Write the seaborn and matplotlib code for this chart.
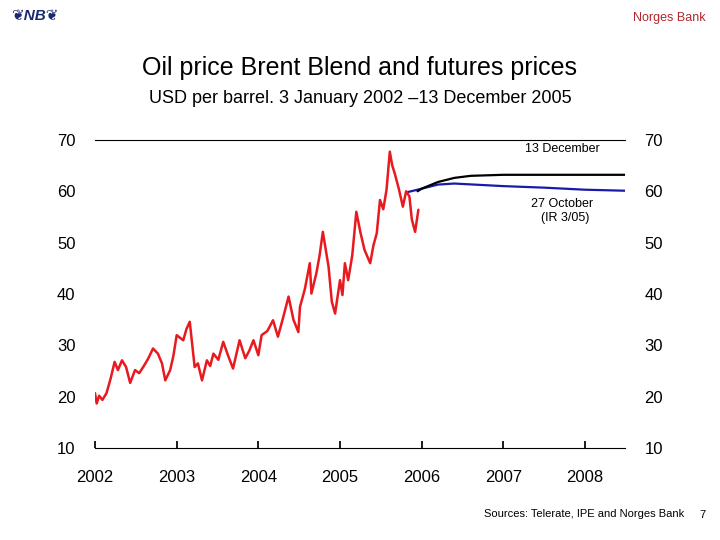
import matplotlib
matplotlib.use("Agg")
import matplotlib.pyplot as plt
import seaborn as sns

sns.set_theme(style="white")
plt.rcParams['font.family'] = ['Liberation Sans', 'DejaVu Sans']
plt.rcParams['text.color'] = 'black'
plt.rcParams['xtick.color'] = 'black'
plt.rcParams['ytick.color'] = 'black'

brent_t = [2002.0, 2002.02, 2002.05, 2002.09, 2002.14, 2002.19, 2002.24, 2002.28, 2002.33, 2002.38,
           2002.43, 2002.49, 2002.54, 2002.59, 2002.65, 2002.71, 2002.77, 2002.82,
           2002.86, 2002.92, 2002.96, 2003.00, 2003.08, 2003.12, 2003.16, 2003.22, 2003.26, 2003.31,
           2003.37, 2003.41, 2003.45, 2003.51, 2003.57, 2003.63,
           2003.69, 2003.77, 2003.84, 2003.89, 2003.94, 2004.00, 2004.04, 2004.11, 2004.18, 2004.24,
           2004.30, 2004.37, 2004.43, 2004.49, 2004.51, 2004.57, 2004.63, 2004.65, 2004.71, 2004.75,
           2004.79, 2004.86, 2004.90, 2004.94, 2005.00, 2005.03, 2005.06, 2005.10, 2005.15, 2005.20,
           2005.25, 2005.30, 2005.37, 2005.41, 2005.45, 2005.49, 2005.53, 2005.57, 2005.61, 2005.64,
           2005.67, 2005.72, 2005.77, 2005.81, 2005.85, 2005.88, 2005.92, 2005.96]
brent_v = [20.7, 18.7, 20.2, 19.4, 20.7, 23.5, 26.8, 25.2, 27.1, 25.8,
           22.7, 25.2, 24.6, 25.8, 27.4, 29.4, 28.4, 26.5,
           23.2, 25.2, 28.0, 32.0, 31.0, 33.2, 34.6, 25.8, 26.5, 23.2,
           27.1, 26.0, 28.4, 27.2, 30.7, 28.0,
           25.5, 31.0, 27.5, 29.0, 31.0, 28.1, 32.0, 32.8, 34.9, 31.7,
           35.2, 39.5, 35.0, 32.6, 37.5, 41.0, 46.0, 40.1, 44.0, 47.5,
           52.1, 45.3, 38.5, 36.2, 42.7, 39.8, 46.0, 42.7, 47.5, 56.0,
           52.0, 48.6, 46.0, 49.5, 51.8, 58.3, 56.5, 60.3, 67.7, 65.0,
           63.5, 60.5, 57.0, 60.0, 59.0, 54.5, 52.1, 56.4]

dec_t = [2005.95, 2006.0, 2006.2, 2006.4, 2006.6, 2007.0, 2007.5, 2008.0, 2008.5]
dec_v = [60.0, 60.5, 61.8, 62.6, 63.0, 63.2, 63.2, 63.2, 63.2]
oct_t = [2005.82, 2006.0, 2006.2, 2006.4, 2007.0, 2007.5, 2008.0, 2008.5]
oct_v = [59.8, 60.5, 61.3, 61.5, 61.0, 60.7, 60.3, 60.1]

years = [2002, 2003, 2004, 2005, 2006, 2007, 2008]
yticks = [10, 20, 30, 40, 50, 60, 70]

fig = plt.figure(figsize=(7.2, 5.4), dpi=100)
ax = fig.add_axes([0.132, 0.170, 0.736, 0.571])

sns.lineplot(x=oct_t, y=oct_v, ax=ax, color="#1a1aa8", lw=1.6)
sns.lineplot(x=dec_t, y=dec_v, ax=ax, color="black", lw=1.6)
sns.lineplot(x=brent_t, y=brent_v, ax=ax, color="#e8191f", lw=1.8)

ax.set_xlim(2002, 2008.49)
ax.set_ylim(10, 70)
ax.set_xticks(years)
ax.set_xticklabels([str(y) for y in years], fontsize=12)
ax.set_yticks(yticks)
ax.set_yticklabels([str(y) for y in yticks], fontsize=12)
ax.tick_params(axis='y', left=False, labelright=True, right=False, pad=8)
ax.tick_params(axis='x', bottom=True, direction='in', length=5, color='black', pad=16)
for s in ['left', 'right']:
    ax.spines[s].set_visible(False)
for s in ['top', 'bottom']:
    ax.spines[s].set_color('black')
    ax.spines[s].set_linewidth(0.8)
ax.grid(False)

ax.text(2007.72, 67.6, "13 December", fontsize=9, ha='center')
ax.text(2007.72, 54.2, "27 October\n  (IR 3/05)", fontsize=9, ha='center')

fig.text(0.5, 0.862, "Oil price Brent Blend and futures prices", ha='center', fontsize=18)
fig.text(0.5, 0.81, "USD per barrel. 3 January 2002 \u201313 December 2005", ha='center', fontsize=13)
fig.text(0.98, 0.962, "Norges Bank", ha='right', fontsize=9, color='#b0282e')
fig.text(0.015, 0.963, "\u2766NB\u2766", ha='left', fontsize=11, color='#1a2a6c', fontweight='bold', fontstyle='italic')
fig.text(0.95, 0.043, "Sources: Telerate, IPE and Norges Bank", ha='right', fontsize=8)
fig.text(0.98, 0.04, "7", ha='right', fontsize=8)

fig.savefig("out.png", dpi=100)
